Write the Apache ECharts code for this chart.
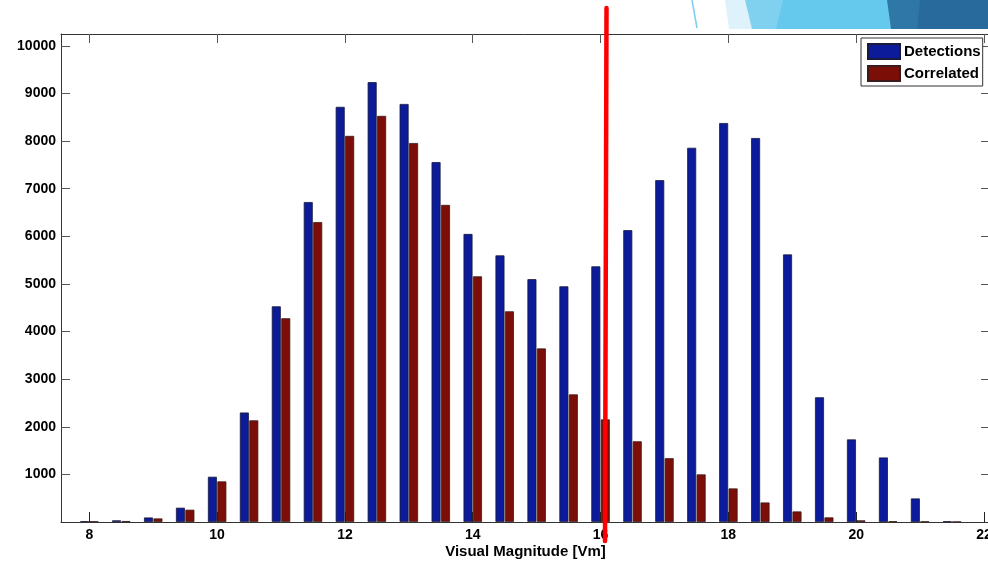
<!DOCTYPE html>
<html>
<head>
<meta charset="utf-8">
<script src="https://cdn.jsdelivr.net/npm/echarts@6/dist/echarts.min.js"></script>
<style>
html,body{margin:0;padding:0;background:#fff;}
#chart{width:988px;height:561px;}
</style>
</head>
<body>
<div id="chart"></div>
<script>
// Data
var magnitudes = [8, 8.5, 9, 9.5, 10, 10.5, 11, 11.5, 12, 12.5, 13, 13.5, 14, 14.5, 15, 15.5, 16, 16.5, 17, 17.5, 18, 18.5, 19, 19.5, 20, 20.5, 21, 21.5];
var detections = [15, 35, 95, 300, 950, 2300, 4530, 6720, 8720, 9240, 8780, 7560, 6050, 5600, 5100, 4950, 5370, 6130, 7180, 7860, 8380, 8065, 5620, 2620, 1735, 1355, 495, 15];
var correlated = [12, 20, 75, 258, 853, 2135, 4280, 6300, 8110, 8530, 7960, 6660, 5160, 4425, 3645, 2680, 2155, 1695, 1340, 1000, 705, 410, 222, 97, 35, 15, 10, 5];
var xTickValues = [8, 10, 12, 14, 16, 18, 20, 22];
var yTickValues = [1000, 2000, 3000, 4000, 5000, 6000, 7000, 8000, 9000, 10000];
var seriesNames = ['Detections', 'Correlated'];
var xAxisTitle = 'Visual Magnitude [Vm]';

var FONT = '"Liberation Sans", Arial, sans-serif';
var chart = echarts.init(document.getElementById('chart'), null, {renderer: 'canvas'});

function pairs(vals) {
  return magnitudes.map(function (m, i) { return [m, vals[i]]; });
}
function plain(v) { return String(v); }

var axisLineStyle = {color: '#333', width: 1};
var xMin = 7.557, xMax = 22.094;

var option = {
  backgroundColor: '#ffffff',
  animation: false,
  grid: {left: 61, top: 34, right: -2, bottom: 39, containLabel: false, outerBoundsMode: 'none'},
  legend: {
    data: seriesNames,
    orient: 'vertical',
    left: 861,
    top: 38,
    padding: [5, 2, 4, 6],
    itemGap: 5,
    itemWidth: 32,
    itemHeight: 15,
    icon: 'rect',
    backgroundColor: '#fff',
    borderColor: '#333',
    borderWidth: 1,
    borderRadius: 0,
    textStyle: {fontFamily: FONT, fontWeight: 'bold', fontSize: 15, color: '#000', padding: [0, 0, 0, -1]},
    z: 10
  },
  xAxis: [{
    type: 'value', position: 'bottom', min: xMin, max: xMax, z: 5,
    name: xAxisTitle, nameLocation: 'middle', nameGap: 22, nameMoveOverlap: false,
    nameTextStyle: {fontFamily: FONT, fontWeight: 'bold', fontSize: 15, color: '#000'},
    axisLine: {show: true, onZero: false, lineStyle: axisLineStyle},
    axisTick: {show: true, inside: true, length: 10, customValues: xTickValues, lineStyle: {color: '#222'}},
    axisLabel: {show: true, customValues: xTickValues, formatter: plain, margin: 6, fontFamily: FONT, fontWeight: 'bold', fontSize: 14, color: '#000'},
    splitLine: {show: false}
  }, {
    type: 'value', position: 'top', min: xMin, max: xMax, z: 5,
    axisLine: {show: true, onZero: false, lineStyle: axisLineStyle},
    axisTick: {show: true, inside: true, length: 9, customValues: xTickValues, lineStyle: {color: '#555'}},
    axisLabel: {show: false},
    splitLine: {show: false}
  }],
  yAxis: [{
    type: 'value', position: 'left', min: 0, max: 10250, z: 5,
    axisLine: {show: true, onZero: false, lineStyle: axisLineStyle},
    axisTick: {show: true, inside: true, length: 9, customValues: yTickValues, lineStyle: {color: '#555'}},
    axisLabel: {show: true, customValues: yTickValues, formatter: plain, margin: 5, fontFamily: FONT, fontWeight: 'bold', fontSize: 14, color: '#000'},
    splitLine: {show: false}
  }, {
    type: 'value', position: 'right', min: 0, max: 10250, z: 5,
    axisLine: {show: true, onZero: false, lineStyle: axisLineStyle},
    axisTick: {show: true, inside: true, length: 9, customValues: yTickValues, lineStyle: {color: '#555'}},
    axisLabel: {show: false},
    splitLine: {show: false}
  }],
  series: [{
    name: seriesNames[0], type: 'bar', xAxisIndex: 0, yAxisIndex: 0,
    data: pairs(detections), barWidth: 9, barGap: '5%',
    itemStyle: {color: '#0b1b9a', borderColor: '#1a1a3a', borderWidth: 0.8},
    z: 2
  }, {
    name: seriesNames[1], type: 'bar', xAxisIndex: 0, yAxisIndex: 0,
    data: pairs(correlated), barWidth: 9, barGap: '5%',
    itemStyle: {color: '#7b0f08', borderColor: '#3a1a1a', borderWidth: 0.8},
    z: 2
  }],
  graphic: [
    // decorative slide shapes at top right
    {type: 'polygon', z: 1, shape: {points: [[725, 0], [988, 0], [988, 29], [729, 29]]}, style: {fill: '#def2fb'}},
    {type: 'polygon', z: 1, shape: {points: [[745, 0], [988, 0], [988, 29], [752, 29]]}, style: {fill: '#80d1ef'}},
    {type: 'polygon', z: 1, shape: {points: [[783, 0], [988, 0], [988, 29], [776, 29]]}, style: {fill: '#64c9ec'}},
    {type: 'polygon', z: 1, shape: {points: [[887, 0], [988, 0], [988, 29], [891, 29]]}, style: {fill: '#2f77a7'}},
    {type: 'polygon', z: 1, shape: {points: [[920, 0], [988, 0], [988, 29], [917, 29]]}, style: {fill: '#286a9b'}},
    {type: 'line', z: 1, shape: {x1: 692, y1: 0, x2: 697, y2: 28}, style: {stroke: '#7fd0f0', lineWidth: 1.6}},
    // red marker line drawn over chart
    {type: 'line', z: 100, shape: {x1: 606.5, y1: 8, x2: 605, y2: 541}, style: {stroke: '#ff0000', lineWidth: 4.5, lineCap: 'round'}}
  ]
};
chart.setOption(option);
</script>
</body>
</html>
